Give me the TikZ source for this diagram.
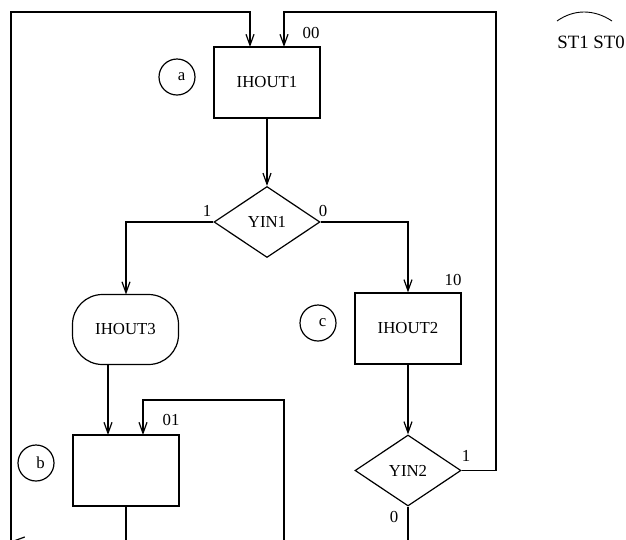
\documentclass[tikz,border=0pt]{standalone}
\usepackage{fontspec}
\setmainfont{Liberation Serif}
\usetikzlibrary{shapes.geometric,arrows.meta}
\begin{document}
\begin{tikzpicture}[x=1pt,y=-1pt,
  line width=1.2pt,
  >={Straight Barb[length=11pt,width=8pt,line width=1.2pt]},
  every node/.style={font=\fontsize{16.8}{18}\selectfont},
  statebox/.style={draw,rectangle,minimum width=106pt,minimum height=71pt,inner sep=0pt},
  condbox/.style={draw,rectangle,rounded corners=30pt,minimum width=106pt,minimum height=70pt,inner sep=0pt},
  decision/.style={draw,diamond,minimum width=106pt,minimum height=71pt,inner sep=0pt},
  marker/.style={draw,circle,minimum size=36pt,inner sep=0pt},
  lbl/.style={inner sep=0pt}
]
\useasboundingbox (0,0) rectangle (626,539);
\clip (0,0) rectangle (626,539);

% nodes
\node[statebox] (s00) at (267,82.5) {IHOUT1};
\node[decision] (yin1) at (267,222) {YIN1};
\node[condbox] (ih3) at (125.5,329.5) {IHOUT3};
\node[statebox] (s10) at (408,328.5) {IHOUT2};
\node[statebox] (s01) at (126,470.5) {};
\node[decision] (yin2) at (408,470.5) {YIN2};

\node[marker] (ca) at (177,77) {\hspace*{9pt}a};
\node[marker] (cb) at (36,463) {\hspace*{9pt}b};
\node[marker] (cc) at (318,323) {\hspace*{9pt}c};

% state codes and branch labels
\node[lbl] (l00) at (311,33) {00};
\node[lbl] (l10) at (453,280) {10};
\node[lbl] (l01) at (171,420) {01};
\node[lbl] (y1a) at (207,211) {1};
\node[lbl] (y1b) at (323,211) {0};
\node[lbl] (y2a) at (466,456) {1};
\node[lbl] (y2b) at (394,517) {0};

\node[lbl,font=\fontsize{18.8}{20}\selectfont] (st) at (591,42) {ST1 ST0};
\draw[line width=0.9pt] (557,21) .. controls (574,9) and (594,9) .. (612,21);

% coordinates
\coordinate (in1) at (250,47);
\coordinate (in2) at (284,47);
\coordinate (tl) at (11,12);
\coordinate (tl2) at (250,12);
\coordinate (tr1) at (284,12);
\coordinate (tr2) at (496,12);
\coordinate (yr) at (496,470.5);
\coordinate (lbot) at (11,560);
\coordinate (y1l) at (126,222);
\coordinate (y1r) at (408,222);
\coordinate (i3in) at (126,294.5);
\coordinate (i3out) at (108,364.5);
\coordinate (b1in) at (108,435);
\coordinate (b2in) at (143,435);
\coordinate (b2top) at (143,400);
\coordinate (b2r) at (284,400);
\coordinate (b2bot) at (284,560);
\coordinate (bout) at (126,560);
\coordinate (y2bot) at (408,560);
\coordinate (stubtip) at (12,541);
\coordinate (stubtail) at (60,541);

% connectors
\draw[->] (lbot) -- (tl) -- (tl2) -- (in1);
\draw[->] (yin2.east) -- (yr) -- (tr2) -- (tr1) -- (in2);
\draw[->] (s00.south) -- (yin1.north);
\draw[->] (yin1.west) -- (y1l) -- (i3in);
\draw[->] (yin1.east) -- (y1r) -- (s10.north);
\draw[->] (i3out) -- (b1in);
\draw[->] (b2bot) -- (b2r) -- (b2top) -- (b2in);
\draw[->] (s10.south) -- (yin2.north);
\draw (s01.south) -- (bout);
\draw (yin2.south) -- (y2bot);
\draw[->] (stubtail) -- (stubtip);
\end{tikzpicture}
\end{document}
